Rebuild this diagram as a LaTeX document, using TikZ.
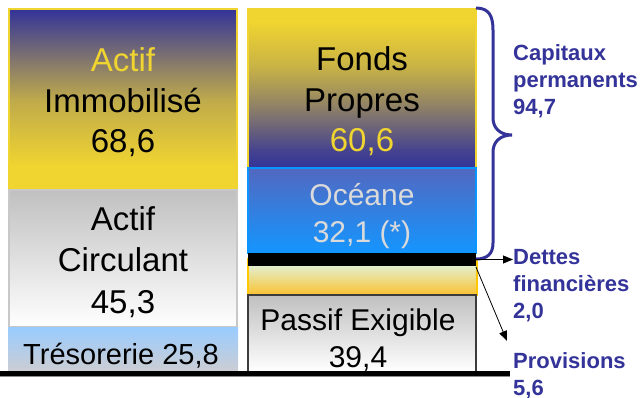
\documentclass[tikz,border=0pt]{standalone}
\usepackage{fontspec}
\setmainfont{Liberation Sans}
\usetikzlibrary{arrows.meta}
\definecolor{navy}{RGB}{51,51,153}
\definecolor{gold}{RGB}{240,212,48}
\definecolor{oceTop}{RGB}{82,104,192}
\definecolor{oceBot}{RGB}{20,150,255}
\definecolor{oceLine}{RGB}{10,150,255}
\definecolor{provLine}{RGB}{255,200,0}
\definecolor{provTop}{RGB}{222,250,244}
\definecolor{provBot}{RGB}{250,195,50}
\definecolor{greyTop}{RGB}{192,192,192}
\definecolor{greyLine}{RGB}{200,200,200}
\definecolor{tresTop}{RGB}{153,204,255}
\definecolor{tresBot}{RGB}{205,205,210}
\definecolor{darkLine}{RGB}{60,60,60}
\definecolor{oceText}{RGB}{218,218,218}
\colorlet{ngA}{navy!26!gold}
\colorlet{ngB}{navy!58!gold}
\colorlet{ngC}{navy!90!gold}
\colorlet{ngD}{navy!53!gold}
\colorlet{ngE}{navy!21!gold}
\tikzset{
  blk/.style={rectangle, inner sep=0pt, outer sep=0pt},
  big/.style={font=\fontsize{33}{40.5}\selectfont, align=center, anchor=base, inner sep=0pt},
  mid/.style={font=\fontsize{30}{37}\selectfont, align=center, anchor=base, inner sep=0pt},
  lab/.style={font=\fontsize{22}{27}\selectfont\bfseries, text=navy, align=left, anchor=base west, inner sep=0pt},
  arr/.style={-{Triangle[length=10pt,width=8pt]}, line width=0.8pt}
}
\begin{document}
\begin{tikzpicture}[x=1pt,y=-1pt]
\fill[white] (0,0) rectangle (642,398);
\useasboundingbox (0,0) rectangle (642,398);
% left column: actif immobilise gradient (piecewise)
\shade[top color=navy, bottom color=ngB] (9,9) rectangle (237,60.5);
\shade[top color=ngB, bottom color=ngA] (9,60) rectangle (237,100.5);
\shade[top color=ngA, bottom color=gold] (9,100) rectangle (237,165.5);
\fill[gold] (9,165) rectangle (237,190);
\node[blk, draw=gold, line width=2pt, minimum width=228pt, minimum height=181pt] (immob) at (123,99.5) {};
\node[blk, top color=greyTop, bottom color=white, draw=greyLine, line width=2pt, minimum width=228pt, minimum height=137pt] (circ) at (123,258.5) {};
\node[blk, top color=tresTop, bottom color=tresBot, minimum width=230pt, minimum height=45pt] (treso) at (123,349.5) {};
% right column: fonds propres gradient (piecewise)
\fill[gold] (248,9) rectangle (476,22.5);
\shade[top color=gold, bottom color=ngE] (248,22) rectangle (476,67.5);
\shade[top color=ngE, bottom color=ngD] (248,67) rectangle (476,108.5);
\shade[top color=ngD, bottom color=ngC] (248,108) rectangle (476,150.5);
\shade[top color=ngC, bottom color=navy] (248,150) rectangle (476,168);
\node[blk, draw=gold, line width=2pt, minimum width=228pt, minimum height=159pt] (fonds) at (362,88.5) {};
\node[blk, top color=provTop, bottom color=provBot, draw=provLine, line width=2pt, minimum width=229pt, minimum height=36pt] (provb) at (362,276.5) {};
\node[blk, top color=oceTop, bottom color=oceBot, draw=oceLine, line width=2pt, minimum width=228pt, minimum height=85pt] (oceane) at (362,210.5) {};
\node[blk, fill=black, minimum width=228pt, minimum height=13pt] (bar) at (362,259.5) {};
\node[blk, top color=greyTop, bottom color=white, draw=darkLine, line width=2pt, minimum width=228pt, minimum height=77pt] (passif) at (362,333.5) {};
% base line
\coordinate (b0) at (0,373.5);
\coordinate (b1) at (510,373.5);
\draw[black!45, line width=1pt] ([yshift=-3pt]b0) -- ([yshift=-3pt]b1);
\draw[line width=5pt] (b0) -- (b1);
% texts (base = baseline of last line)
\node[big] (timmob) at (123,153) {\textcolor{gold}{Actif}\\Immobilisé\\68,6};
\node[big, font=\fontsize{33}{41.5}\selectfont] (tcirc) at (123,313) {Actif\\Circulant\\45,3};
\node[big, font=\fontsize{29}{35}\selectfont] (ttreso) at (121,364) {Trésorerie 25,8};
\node[big] (tfonds) at (362,152) {Fonds\\Propres\\\textcolor{gold}{60,6}};
\node[mid, text=oceText] (toce) at (362,242) {Océane\\32,1 (*)};
\node[mid] (tpassif) at (358,367) {Passif Exigible\\39,4};
% brace
\draw[navy, line width=3pt] (476,8) .. controls (489,8) and (493,16) .. (493,30) -- (493,118)
  .. controls (493,128) and (500,135) .. (512,135)
  .. controls (500,135) and (493,142) .. (493,152) -- (493,243)
  .. controls (493,254) and (487,259) .. (476,259);
% labels
\node[lab] (cap) at (513,115) {Capitaux\\permanents\\94,7};
\node[lab] (dettes) at (513,318) {Dettes\\financières\\2,0};
\node[lab] (prov) at (513,395) {Provisions\\5,6};
% arrows
\coordinate (ptip) at (507,341);
\draw[arr] (bar.east) -- (bar.east -| dettes.west);
\draw[arr] ([yshift=-1pt]bar.south east) -- (ptip);
\end{tikzpicture}
\end{document}
